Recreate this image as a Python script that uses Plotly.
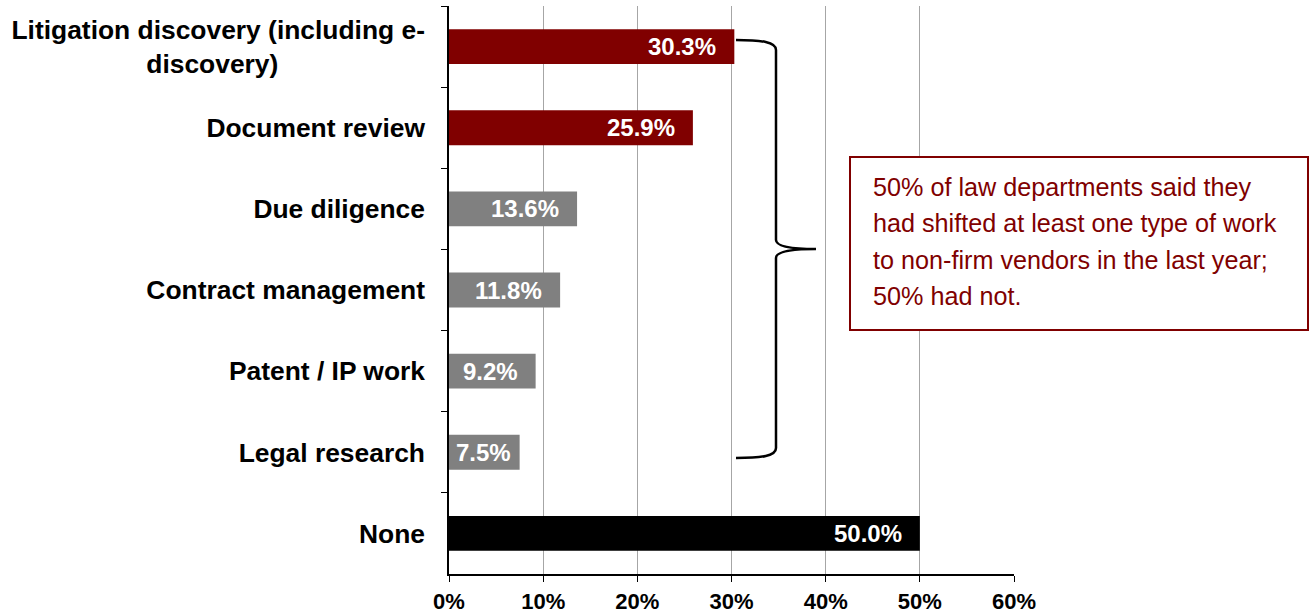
import plotly.graph_objects as go

NB = "\u00a0"
categories = [
    "Litigation discovery (including e-<br>discovery)" + NB * 20,
    "Document review",
    "Due diligence",
    "Contract management",
    "Patent / IP work",
    "Legal research",
    "None",
]
values = [30.3, 25.9, 13.6, 11.8, 9.2, 7.5, 50.0]
bar_colors = ["#800000", "#800000", "#808080", "#808080", "#808080", "#808080", "#000000"]
x_ticks = [0, 10, 20, 30, 40, 50, 60]
note_lines = [
    "50% of law departments said they",
    "had shifted at least one type of work",
    "to non-firm vendors in the last year;",
    "50% had not.",
]

W, H = 1314, 615
L, R, T, B = 449, 1014, 6, 574
FONT = "Arial, Liberation Sans, sans-serif"


def px(x):
    return (x - L) / (R - L)


def py(y):
    return (B - y) / (B - T)


fig = go.Figure()
fig.add_trace(go.Bar(
    y=categories, x=values, orientation="h",
    marker=dict(color=bar_colors, line=dict(width=0)),
    width=0.43, hoverinfo="skip",
))

for c, v in zip(categories, values):
    fig.add_annotation(
        x=v, y=c, xref="x", yref="y", text=f"{v:.1f}%",
        xanchor="right", yanchor="middle", xshift=-16 if v > 8 else -7,
        showarrow=False,
        font=dict(family=FONT, size=24, color="white", weight="bold"),
    )

# brace
def P(x, y):
    return f"{px(x):.5f},{py(y):.5f}"
path = (
    f"M {P(736,40)} C {P(762,40)} {P(776,42)} {P(776,50)} "
    f"L {P(776,240)} C {P(776,246)} {P(790,249)} {P(816,249)} "
    f"C {P(790,249)} {P(776,252)} {P(776,258)} "
    f"L {P(776,448)} C {P(776,456)} {P(762,458)} {P(736,458)}"
)
fig.add_shape(type="path", path=path, xref="paper", yref="paper",
              line=dict(color="black", width=2.5))

# note box
fig.add_shape(type="rect", xref="paper", yref="paper",
              x0=px(850), x1=px(1308), y0=py(330), y1=py(157),
              line=dict(color="#800000", width=2), fillcolor="white")
line_y = [187, 223.3, 259.6, 296]
for t, yy in zip(note_lines, line_y):
    fig.add_annotation(
        x=px(871), y=py(yy), xref="paper", yref="paper", text=t,
        xanchor="left", yanchor="middle", showarrow=False,
        font=dict(family=FONT, size=25.2, color="#800000"),
    )

fig.update_layout(
    width=W, height=H,
    margin=dict(l=L, r=W - R, t=T, b=H - B, pad=0),
    plot_bgcolor="white", paper_bgcolor="white",
    showlegend=False, bargap=0.57,
    xaxis=dict(
        range=[0, 60], tickvals=x_ticks, ticktext=[f"{v}%" for v in x_ticks],
        showgrid=True, gridcolor="#a6a6a6", gridwidth=1, zeroline=False,
        showline=True, linecolor="black", linewidth=1.5,
        ticks="outside", ticklen=6, tickcolor="black", tickwidth=1,
        ticklabelstandoff=1, automargin=False,
        tickfont=dict(family=FONT, size=22, color="black", weight="bold"),
        fixedrange=True,
    ),
    yaxis=dict(
        type="category", autorange="reversed", tickson="boundaries",
        showgrid=False, zeroline=False,
        showline=True, linecolor="black", linewidth=1.5,
        ticks="outside", ticklen=6, tickcolor="black", tickwidth=1,
        ticklabelstandoff=17, automargin=False,
        tickfont=dict(family=FONT, size=26.4, color="black", weight="bold"),
        fixedrange=True,
    ),
)

fig.write_html("out.html", config={"displayModeBar": False},
               post_script="document.body.style.margin='0';")
